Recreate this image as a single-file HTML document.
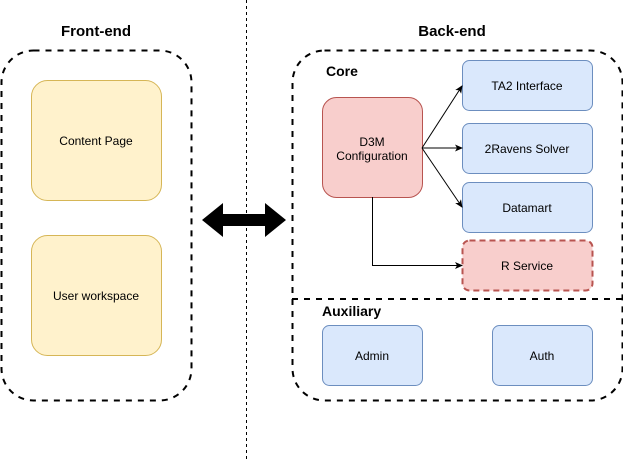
<!DOCTYPE html>
<html><head><style>body{margin:0;background:#fff}svg{display:block}</style></head>
<body>
<svg width="623" height="462" viewBox="0 0 623 462" xmlns="http://www.w3.org/2000/svg" font-family="Liberation Sans, sans-serif">
<defs><marker id="a" markerWidth="8" markerHeight="8" refX="7" refY="4" orient="auto" markerUnits="userSpaceOnUse"><path d="M0,0.5 L8,4 L0,7.5 L2,4 Z" fill="#000"/></marker></defs>
<line x1="246.5" y1="0" x2="246.5" y2="462" stroke="#000" stroke-dasharray="3 3"/>
<rect x="1.5" y="50.5" width="190" height="350" rx="32" fill="none" stroke="#000" stroke-width="2" stroke-dasharray="6 6"/>
<rect x="292.5" y="50.5" width="330" height="350" rx="32" fill="none" stroke="#000" stroke-width="2" stroke-dasharray="6 6"/>
<line x1="292" y1="299" x2="622" y2="299" stroke="#000" stroke-width="2" stroke-dasharray="6 6"/>
<text x="96" y="36" font-size="15" font-weight="bold" text-anchor="middle">Front-end</text>
<text x="452" y="36" font-size="15" font-weight="bold" text-anchor="middle">Back-end</text>
<text x="326" y="76" font-size="14" font-weight="bold">Core</text>
<text x="322" y="316" font-size="14" font-weight="bold">Auxiliary</text>
<g font-size="12" text-anchor="middle">
<rect x="31.5" y="80.5" width="130" height="120" rx="16" fill="#fff2cc" stroke="#d6b656"/>
<text x="96" y="145">Content Page</text>
<rect x="31.5" y="235.5" width="130" height="120" rx="16" fill="#fff2cc" stroke="#d6b656"/>
<text x="96" y="300">User workspace</text>
<rect x="322.5" y="97.5" width="100" height="100" rx="14" fill="#f8cecc" stroke="#b85450"/>
<text x="372" y="146">D3M</text><text x="372" y="160">Configuration</text>
<rect x="462.5" y="60.5" width="130" height="50" rx="7" fill="#dae8fc" stroke="#6c8ebf"/>
<text x="527" y="90">TA2 Interface</text>
<rect x="462.5" y="123.5" width="130" height="50" rx="7" fill="#dae8fc" stroke="#6c8ebf"/>
<text x="527" y="153">2Ravens Solver</text>
<rect x="462.5" y="182.5" width="130" height="50" rx="7" fill="#dae8fc" stroke="#6c8ebf"/>
<text x="527" y="212">Datamart</text>
<rect x="462.5" y="240.5" width="130" height="50" rx="7" fill="#f8cecc" stroke="#b85450" stroke-width="2" stroke-dasharray="6 4"/>
<text x="527" y="270">R Service</text>
<rect x="322.5" y="325.5" width="100" height="60" rx="7" fill="#dae8fc" stroke="#6c8ebf"/>
<text x="372" y="360">Admin</text>
<rect x="492.5" y="325.5" width="100" height="60" rx="7" fill="#dae8fc" stroke="#6c8ebf"/>
<text x="542" y="360">Auth</text>
</g>
<g stroke="#000" fill="none">
<line x1="422" y1="148" x2="462" y2="86" marker-end="url(#a)"/>
<line x1="422" y1="148" x2="462" y2="148" marker-end="url(#a)"/>
<line x1="422" y1="148" x2="462" y2="207" marker-end="url(#a)"/>
<polyline points="372.5,197 372.5,265.5 462,265.5" marker-end="url(#a)"/>
</g>
<path d="M202,220 L223,203 L223,214 L265,214 L265,203 L286,220 L265,237 L265,226 L223,226 L223,237 Z" fill="#000"/>
</svg>
</body></html>
